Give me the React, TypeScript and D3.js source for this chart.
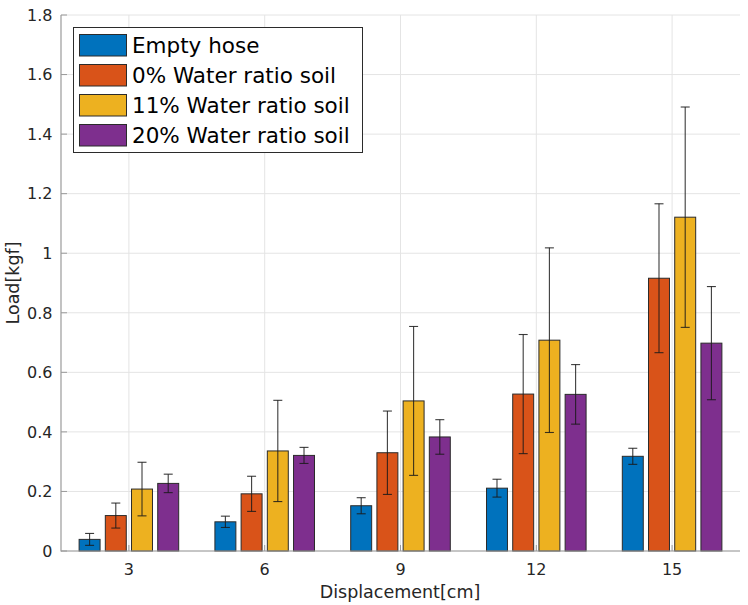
import React from "react";
import * as d3 from "d3";

const categories = [3, 6, 9, 12, 15];
const seriesNames = ["Empty hose", "0% Water ratio soil", "11% Water ratio soil", "20% Water ratio soil"];
const seriesColors = ["#0072BD", "#D95319", "#EDB120", "#7E2F8E"];
const emptyHose = [0.039, 0.098, 0.152, 0.211, 0.318];
const emptyHoseErr = [0.02, 0.019, 0.027, 0.03, 0.027];
const water0 = [0.119, 0.192, 0.33, 0.527, 0.916];
const water0Err = [0.042, 0.059, 0.14, 0.2, 0.25];
const water11 = [0.208, 0.336, 0.504, 0.708, 1.121];
const water11Err = [0.09, 0.17, 0.25, 0.31, 0.37];
const water20 = [0.227, 0.321, 0.383, 0.526, 0.698];
const water20Err = [0.031, 0.027, 0.058, 0.1, 0.19];
const yTicks = [0, 0.2, 0.4, 0.6, 0.8, 1, 1.2, 1.4, 1.6, 1.8];

const values = [emptyHose, water0, water11, water20];
const errors = [emptyHoseErr, water0Err, water11Err, water20Err];

const W = 748;
const H = 605;
const FONT = "'DejaVu Sans', sans-serif";

export default function App() {
  const x = d3.scaleLinear().domain([1.5, 16.5]).range([61, 740]);
  const y = d3.scaleLinear().domain([0, 1.8]).range([551, 15]);
  const inner = d3.scaleBand<string>().domain(seriesNames).range([-1.1, 1.1]).paddingInner(0.2);
  const bw = x(inner.bandwidth()) - x(0);
  const axisColor = "#9a9a9a";
  const gridColor = "#e4e4e4";
  const textColor = "#262626";

  return (
    <svg width={W} height={H} style={{ position: "absolute", left: 0, top: 0, background: "#fff" }}>
      {/* grid */}
      {yTicks.map((t) => (
        <line key={"gy" + t} x1={x(1.5)} x2={x(16.5)} y1={y(t)} y2={y(t)} stroke={gridColor} strokeWidth={1} />
      ))}
      {categories.map((c) => (
        <line key={"gx" + c} x1={x(c)} x2={x(c)} y1={y(0)} y2={y(1.8)} stroke={gridColor} strokeWidth={1} />
      ))}
      {/* bars */}
      {seriesNames.map((s, si) => (
        <g key={s}>
          {categories.map((c, ci) => {
            const x0 = x(c + (inner(s) as number));
            const v = values[si][ci];
            return (
              <rect
                key={c}
                x={x0}
                y={y(v)}
                width={bw}
                height={y(0) - y(v)}
                fill={seriesColors[si]}
                stroke="#2b2b2b"
                strokeWidth={1}
              />
            );
          })}
        </g>
      ))}
      {/* error bars */}
      {seriesNames.map((s, si) => (
        <g key={"e" + s} stroke="#1a1a1a" strokeWidth={1.1} strokeOpacity={0.85}>
          {categories.map((c, ci) => {
            const cx = x(c + (inner(s) as number) + inner.bandwidth() / 2);
            const v = values[si][ci];
            const e = errors[si][ci];
            const cap = 4.5;
            return (
              <g key={c}>
                <line x1={cx} x2={cx} y1={y(v + e)} y2={y(v - e)} />
                <line x1={cx - cap} x2={cx + cap} y1={y(v + e)} y2={y(v + e)} />
                <line x1={cx - cap} x2={cx + cap} y1={y(v - e)} y2={y(v - e)} />
              </g>
            );
          })}
        </g>
      ))}
      {/* axes */}
      <line x1={x(1.5)} x2={x(1.5)} y1={y(0) + 0.5} y2={y(1.8)} stroke={axisColor} strokeWidth={1.2} />
      <line x1={x(1.5)} x2={x(16.5)} y1={y(0)} y2={y(0)} stroke={axisColor} strokeWidth={1.2} />
      {yTicks.map((t) => (
        <g key={"ty" + t}>
          <line x1={x(1.5)} x2={x(1.5) + 6} y1={y(t)} y2={y(t)} stroke={axisColor} strokeWidth={1} />
          <text
            x={52.5}
            y={y(t)}
            dy="0.36em"
            textAnchor="end"
            fontFamily={FONT}
            fontSize={16}
            fill={textColor}
          >
            {String(+t.toFixed(1))}
          </text>
        </g>
      ))}
      {categories.map((c) => (
        <g key={"tx" + c}>
          <line x1={x(c)} x2={x(c)} y1={y(0)} y2={y(0) - 6} stroke={axisColor} strokeWidth={1} />
          <text x={x(c)} y={574.5} textAnchor="middle" fontFamily={FONT} fontSize={16} fill={textColor}>
            {c}
          </text>
        </g>
      ))}
      <text x={400} y={597.5} textAnchor="middle" fontFamily={FONT} fontSize={17.5} fill={textColor}>
        Displacement[cm]
      </text>
      <text
        transform={`translate(19,${283}) rotate(-90)`}
        textAnchor="middle"
        fontFamily={FONT}
        fontSize={17.5}
        fill={textColor}
      >
        Load[kgf]
      </text>
      {/* legend */}
      <rect x={73.5} y={27.5} width={289} height={125} fill="#fff" stroke="#2b2b2b" strokeWidth={1} />
      {seriesNames.map((s, si) => (
        <g key={"l" + s}>
          <rect
            x={79.5}
            y={34.5 + si * 30}
            width={47}
            height={21.5}
            fill={seriesColors[si]}
            stroke="#2b2b2b"
            strokeWidth={1}
          />
          <text x={132} y={45.5 + si * 30} dy="0.36em" fontFamily={FONT} fontSize={21.5} fill="#000">
            {s}
          </text>
        </g>
      ))}
    </svg>
  );
}
